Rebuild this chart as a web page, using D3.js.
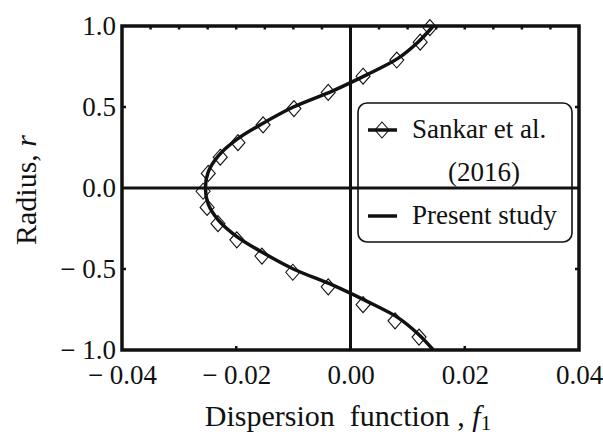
<!DOCTYPE html>
<html>
<head>
<meta charset="utf-8">
<script src="https://cdn.jsdelivr.net/npm/d3@7"></script>
<style>
    body { margin: 0; background: #fff; }
    text { font-family: "Liberation Serif", "Times New Roman", serif; fill: #111; }
</style>
</head>
<body>
<div id="chart"></div>
<script>
//present study curve (radius vs f1)
var curveR = [1.0, 0.9, 0.8, 0.7, 0.6, 0.5, 0.4, 0.3, 0.2, 0.1, 0.0,
    -0.1, -0.2, -0.3, -0.4, -0.5, -0.6, -0.7, -0.8, -0.9, -1.0];
var curveF = [0.0145, 0.0118, 0.0083, 0.0029, -0.0031, -0.0100, -0.0153, -0.0199, -0.0231, -0.0249, -0.0254,
    -0.0249, -0.0231, -0.0199, -0.0153, -0.0100, -0.0031, 0.0029, 0.0083, 0.0118, 0.0145];

//Sankar et al. (2016) markers
var sankarR = [0.99, 0.9, 0.79, 0.69, 0.59, 0.49, 0.39, 0.28, 0.19, 0.09, -0.02,
    -0.12, -0.22, -0.32, -0.42, -0.52, -0.61, -0.72, -0.82, -0.92];
var sankarF = [0.0139, 0.0122, 0.0081, 0.0022, -0.0039, -0.0099, -0.0153, -0.0197, -0.0228, -0.0249, -0.0258,
    -0.0251, -0.0232, -0.0199, -0.0155, -0.0101, -0.0039, 0.0022, 0.0078, 0.0120];

//tick labels
var xTicks = [-0.04, -0.02, 0.00, 0.02, 0.04];
var yTicks = [-1.0, -0.5, 0.0, 0.5, 1.0];
var legendLabels = ["Sankar et al.", "(2016)", "Present study"];

var width = 603;
var height = 435;

var plot = d3.select("#chart")
    .append("svg")
    .attr("width", width)
    .attr("height", height);

//frame position
var fLeft = 122, fRight = 579, fTop = 26, fBottom = 350;

var xScale = d3.scaleLinear().domain([-0.04, 0.04]).range([fLeft, fRight]);
var yScale = d3.scaleLinear().domain([-1, 1]).range([fBottom, fTop]);

//axes: labels only, ticks drawn inward
var xAxis = d3.axisBottom(xScale).tickValues(xTicks).tickSize(0).tickPadding(13)
    .tickFormat(function (d) { return (d < 0 ? "\u2212 " : "") + Math.abs(d).toFixed(2); });
var yAxis = d3.axisLeft(yScale).tickValues(yTicks).tickSize(0).tickPadding(6)
    .tickFormat(function (d) { return (d < 0 ? "\u2212 " : "") + Math.abs(d).toFixed(1); });

var gx = plot.append("g")
    .attr("transform", "translate(0," + fBottom + ")")
    .call(xAxis);
var gy = plot.append("g")
    .attr("transform", "translate(" + fLeft + ",0)")
    .call(yAxis);
plot.selectAll(".domain").remove();
plot.selectAll(".tick text")
    .style("font-family", "'Liberation Serif', serif")
    .style("font-size", "27px")
    .attr("xml:space", "preserve")
    .attr("fill", "#111");
gx.selectAll(".tick text").attr("dy", "0.78em");
gy.selectAll(".tick text").attr("dy", "0.33em");

//inward ticks
var ticks = plot.append("g").attr("stroke", "#111").attr("stroke-width", 2.5);
[-0.02, 0.02].forEach(function (v) {
    ticks.append("line").attr("x1", xScale(v)).attr("x2", xScale(v))
        .attr("y1", fBottom).attr("y2", fBottom - 4);
});
d3.range(-0.035, 0.04, 0.005).forEach(function (v) {
    ticks.append("line").attr("x1", xScale(v)).attr("x2", xScale(v))
        .attr("y1", fTop).attr("y2", fTop + 3.5);
});
[-0.5, 0.5].forEach(function (v) {
    ticks.append("line").attr("x1", fLeft).attr("x2", fLeft + 4)
        .attr("y1", yScale(v)).attr("y2", yScale(v));
    ticks.append("line").attr("x1", fRight).attr("x2", fRight - 4)
        .attr("y1", yScale(v)).attr("y2", yScale(v));
});

//zero lines
plot.append("line")
    .attr("x1", xScale(0)).attr("x2", xScale(0))
    .attr("y1", fTop).attr("y2", fBottom)
    .attr("stroke", "#111").attr("stroke-width", 3);
plot.append("line")
    .attr("x1", fLeft).attr("x2", fRight)
    .attr("y1", yScale(0)).attr("y2", yScale(0))
    .attr("stroke", "#111").attr("stroke-width", 3);

//frame
plot.append("rect")
    .attr("x", fLeft).attr("y", fTop)
    .attr("width", fRight - fLeft).attr("height", fBottom - fTop)
    .attr("fill", "none").attr("stroke", "#111").attr("stroke-width", 3.5);

//diamond markers
var diamond = "M0,-8L7,0L0,8L-7,0Z";
plot.append("g").selectAll("path")
    .data(sankarR)
    .enter().append("path")
    .attr("d", diamond)
    .attr("transform", function (d, i) {
        return "translate(" + xScale(sankarF[i]) + "," + yScale(d) + ")";
    })
    .attr("fill", "none")
    .attr("stroke", "#111")
    .attr("stroke-width", 1.1);

//present study line
var line = d3.line()
    .x(function (d, i) { return xScale(curveF[i]); })
    .y(function (d) { return yScale(d); })
    .curve(d3.curveCatmullRom);
plot.append("path")
    .datum(curveR)
    .attr("d", line)
    .attr("fill", "none")
    .attr("stroke", "#111")
    .attr("stroke-width", 3.5);

//legend
var legend = plot.append("g");
legend.append("rect")
    .attr("x", 358).attr("y", 103)
    .attr("width", 214).attr("height", 139)
    .attr("rx", 9).attr("ry", 9)
    .attr("fill", "none").attr("stroke", "#111").attr("stroke-width", 1.6);
legend.append("line")
    .attr("x1", 368).attr("x2", 397).attr("y1", 130).attr("y2", 130)
    .attr("stroke", "#111").attr("stroke-width", 3.5);
legend.append("path")
    .attr("d", diamond)
    .attr("transform", "translate(382,130)")
    .attr("fill", "none").attr("stroke", "#111").attr("stroke-width", 1.1);
legend.append("line")
    .attr("x1", 368).attr("x2", 397).attr("y1", 216).attr("y2", 216)
    .attr("stroke", "#111").attr("stroke-width", 3.5);
legend.selectAll("text.lab")
    .data(legendLabels)
    .enter().append("text")
    .attr("x", function (d, i) { return i === 1 ? 448 : 412; })
    .attr("y", function (d, i) { return [138, 181, 224][i]; })
    .style("font-size", "27px")
    .text(function (d) { return d; });

//axis titles
var xt = plot.append("text")
    .attr("x", 348).attr("y", 426)
    .attr("text-anchor", "middle")
    .attr("xml:space", "preserve")
    .style("font-size", "30px");
xt.append("tspan").text("Dispersion  function , ");
xt.append("tspan").text("f").style("font-style", "italic");
xt.append("tspan").text("1").attr("dy", 4).style("font-size", "21px");

var yt = plot.append("text")
    .attr("transform", "translate(36,190) rotate(-90)")
    .attr("text-anchor", "middle")
    .style("font-size", "30px");
yt.append("tspan").text("Radius, ");
yt.append("tspan").text("r").style("font-style", "italic");
</script>
</body>
</html>
